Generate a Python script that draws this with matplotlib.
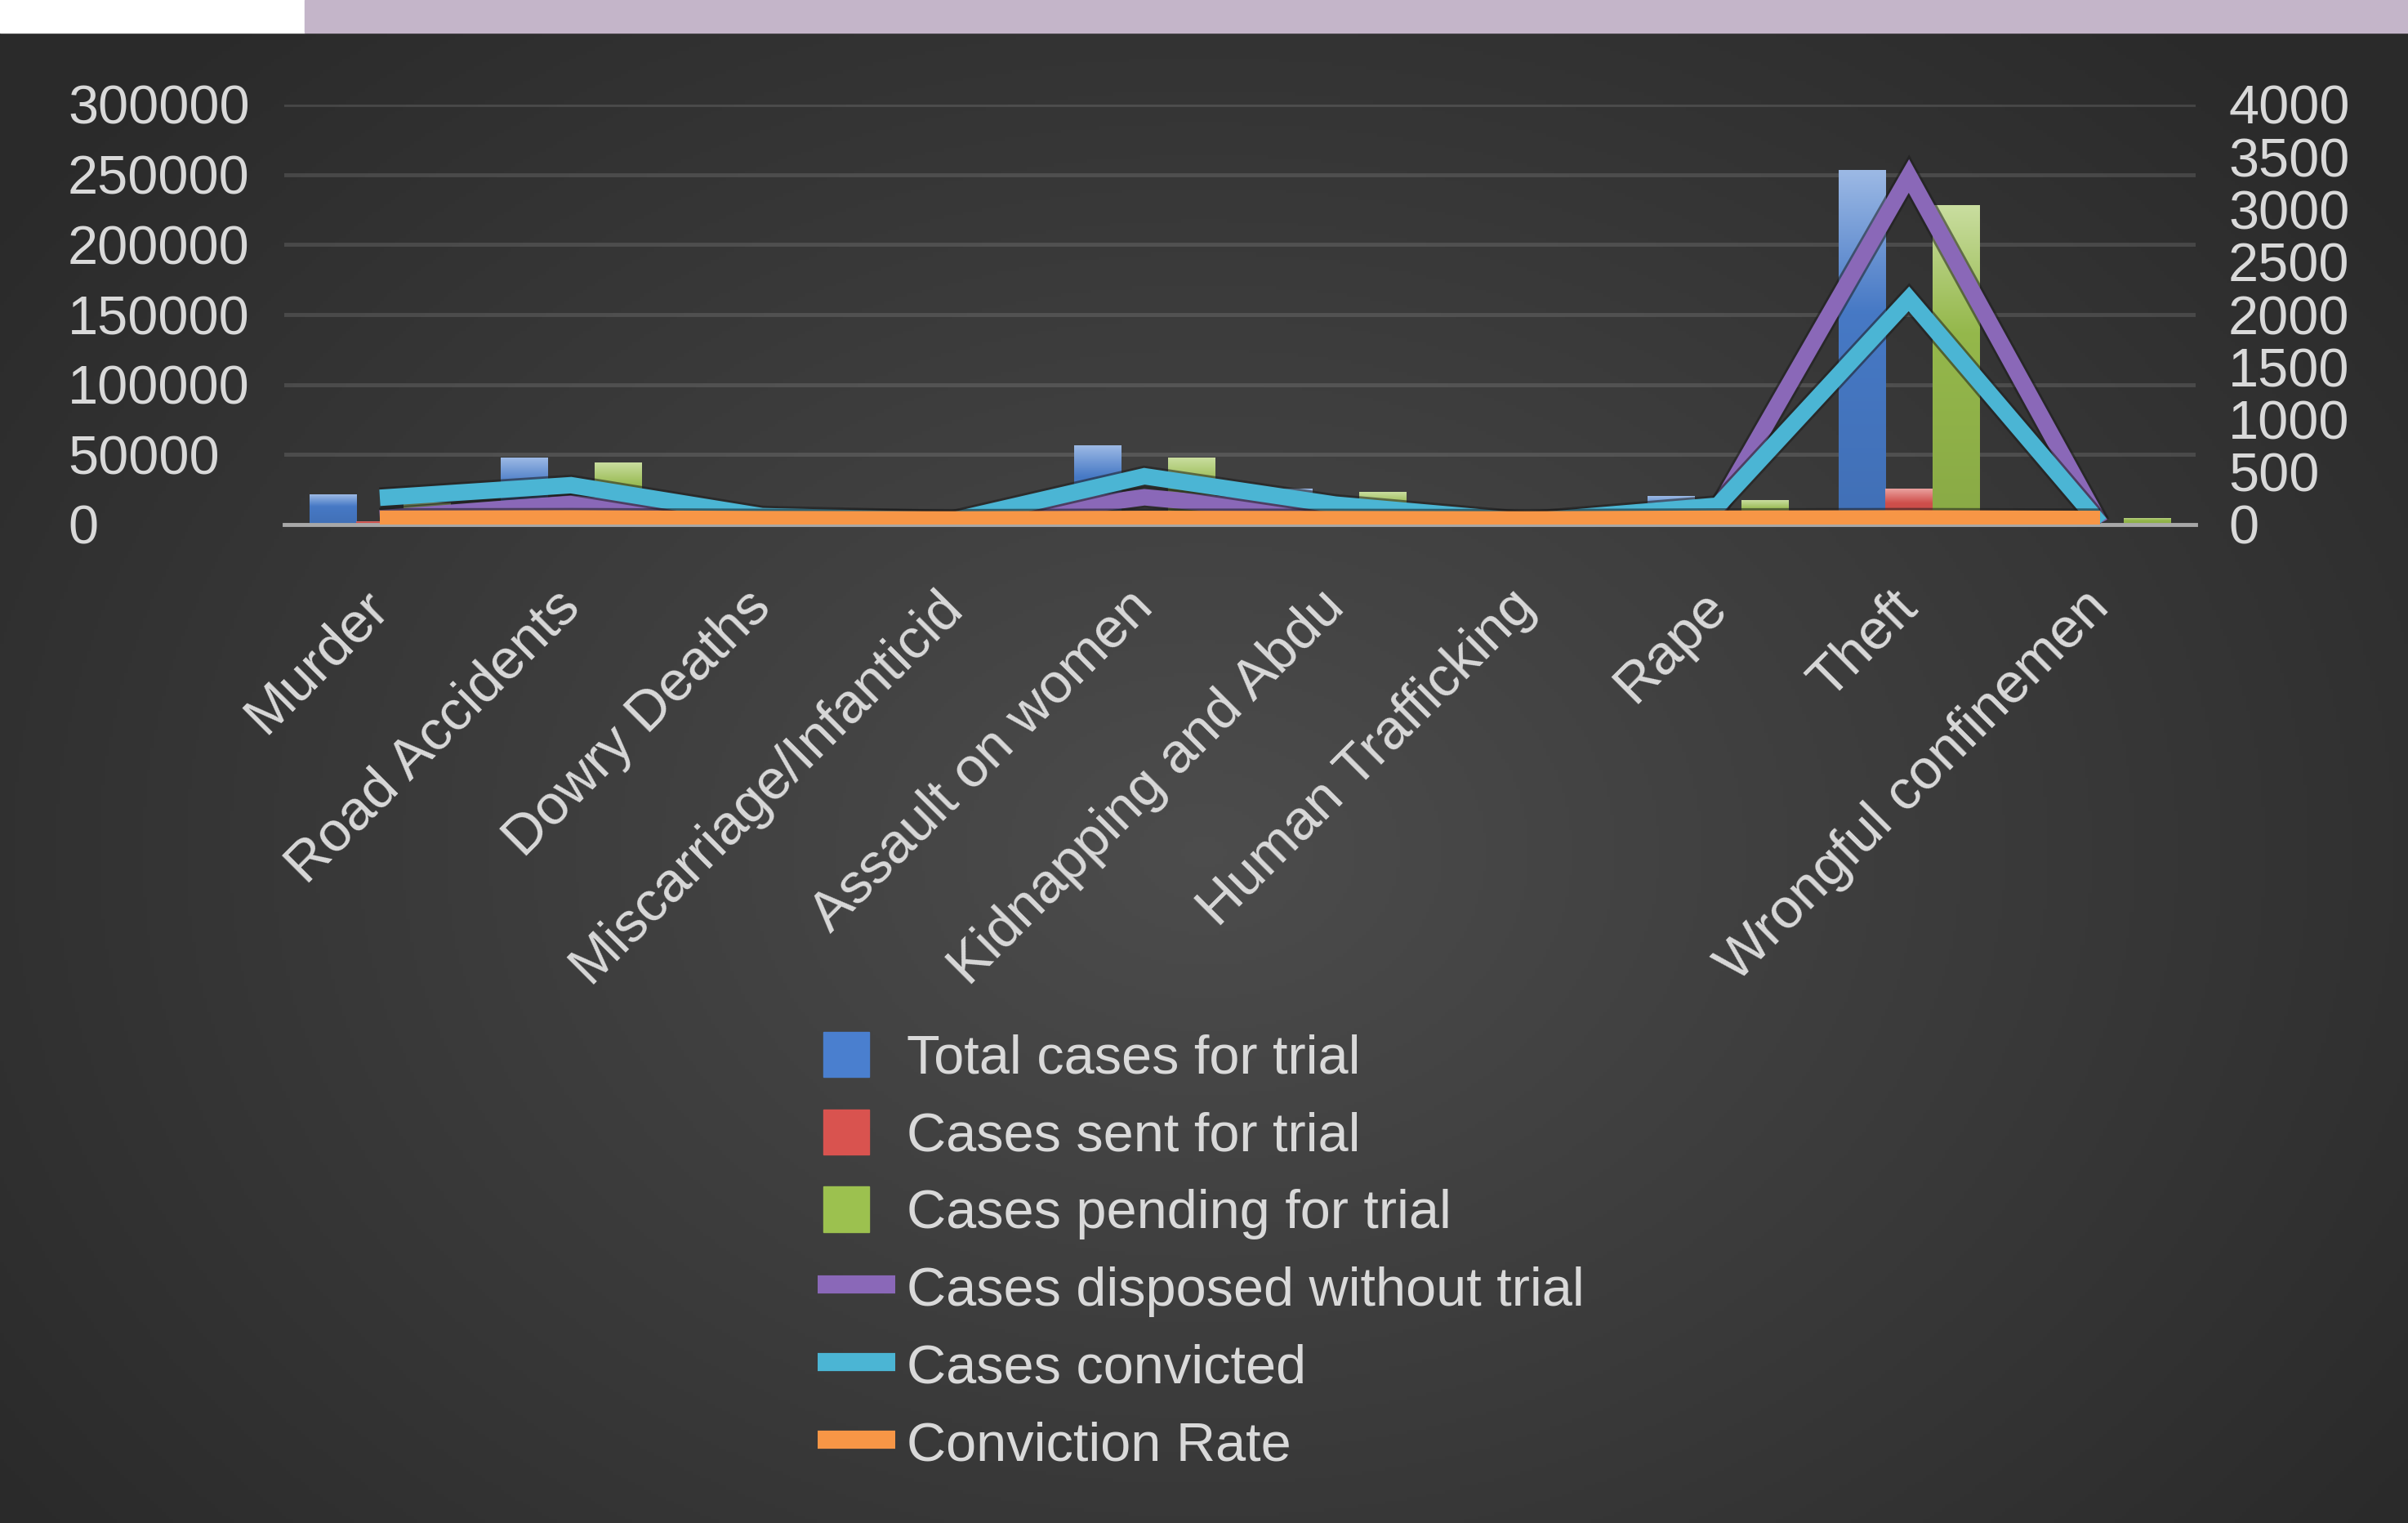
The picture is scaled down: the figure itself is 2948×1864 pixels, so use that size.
import numpy as np
import matplotlib
matplotlib.use("Agg")
import matplotlib.pyplot as plt
import matplotlib.patheffects as pe
from matplotlib.colors import to_rgb
from matplotlib.patches import Rectangle, Patch
from matplotlib.lines import Line2D
from matplotlib.legend_handler import HandlerPatch
from matplotlib.transforms import ScaledTranslation

plt.rcParams['font.family'] = ['Liberation Sans', 'DejaVu Sans']

# --- Data ---
categories = ["Murder", "Road Accidents", "Dowry Deaths", "Miscarriage/Infanticid",
              "Assault on women", "Kidnapping and Abdu", "Human Trafficking",
              "Rape", "Theft", "Wrongful confinemen"]
total_cases = [21500, 47800, 6500, 2200, 56500, 25500, 3500, 20400, 253500, 5600]
sent_cases = [2500, 3500, 800, 300, 8000, 2200, 500, 2900, 25500, 800]
pending_cases = [16000, 44300, 5700, 1900, 47800, 23300, 3000, 17500, 228000, 4800]
disposed = [60, 200, 30, 15, 260, 90, 20, 150, 3320, 10]
convicted = [255, 375, 80, 40, 460, 190, 30, 180, 2150, 10]
conv_rate = [42, 45, 38, 35, 40, 38, 35, 42, 45, 40]

left_ticks = np.arange(0, 300001, 50000)
right_ticks = np.arange(0, 4001, 500)

C_BLUE, C_RED, C_GREEN = "#4a7fcf", "#d9534f", "#9cc14f"
C_PURPLE, C_CYAN, C_ORANGE = "#8a68b8", "#4bb5d4", "#f79646"
TXT = "#d9d9d9"

W, H = 2948, 1864
fig = plt.figure(figsize=(W / 100, H / 100), dpi=100)

# --- background: radial grey gradient + top strip ---
bg = fig.add_axes([0, 0, 1, 1 - 40 / H], zorder=-10)
yy, xx = np.mgrid[0:1:400j, 0:1:640j]
r = np.clip(np.sqrt(((xx - 0.5) / 0.62) ** 2 + ((yy - 0.55) / 0.75) ** 2), 0, 1)
g = 0.30 - 0.135 * r
bg.imshow(np.dstack([g, g, g]), aspect="auto", extent=[0, 1, 0, 1])
bg.axis("off")
fig.patches.append(Rectangle((0, 1 - 40 / H), 373 / W, 40 / H,
                             transform=fig.transFigure, color="white"))
fig.patches.append(Rectangle((373 / W, 1 - 40 / H), 1 - 373 / W, 40 / H,
                             transform=fig.transFigure, color="#c4b5c9"))

# --- bars on primary axis ---
ax = fig.add_axes([348 / W, 1 - 642 / H, 2340 / W, 514 / H])
ax.set_facecolor("none")
x = np.arange(len(categories))
w = 0.245
groups = [(ax.bar(x - w, total_cases, w, color=C_BLUE), C_BLUE),
          (ax.bar(x, sent_cases, w, color=C_RED), C_RED),
          (ax.bar(x + w, pending_cases, w, color=C_GREEN), C_GREEN)]

# soft vertical gradient on each bar (lighter at the top, like the Office style)
ramp = np.linspace(0, 1, 64)[:, None]
for bars, col in groups:
    base = np.array(to_rgb(col))
    light = base + (1 - base) * 0.45
    rgb = light[None, None, :] * (1 - np.clip(ramp * 2.5, 0, 1))[..., None] + \
        base[None, None, :] * np.clip(ramp * 2.5, 0, 1)[..., None]
    rgb = rgb * (1 - 0.12 * ramp[..., None])
    for p in bars:
        im = ax.imshow(rgb, extent=[p.get_x(), p.get_x() + p.get_width(), 0, p.get_height()],
                       aspect="auto", origin="upper", zorder=p.get_zorder(),
                       interpolation="bilinear")
        im.set_clip_path(p)

ax.set_xlim(-0.5, len(categories) - 0.5)
ax.set_ylim(0, 300000)
ax.set_yticks(left_ticks)
ax.grid(axis="y", color="white", alpha=0.12, lw=3.5)
ax.set_axisbelow(True)
for s in ["top", "left", "right"]:
    ax.spines[s].set_visible(False)
ax.spines["bottom"].set_color("#a8a8a8")
ax.spines["bottom"].set_linewidth(3.5)
ax.tick_params(axis="y", length=0, pad=190.8, labelsize=48, labelcolor=TXT)
ax.set_xticks(x)
ax.set_xticklabels(categories, rotation=45, ha="right", va="top",
                   rotation_mode="anchor", fontsize=49.5, color=TXT)
ax.tick_params(axis="x", length=0, pad=49)
shift = ScaledTranslation(-0.22, 0, fig.dpi_scale_trans)
for lbl in ax.get_xticklabels():
    lbl.set_transform(lbl.get_transform() + shift)
plt.setp(ax.get_yticklabels(), ha="left")

# --- lines on secondary axis ---
ax2 = ax.twinx()
ax2.set_ylim(0, 4000)
ax2.set_yticks(right_ticks)
for s in ax2.spines.values():
    s.set_visible(False)
ax2.tick_params(axis="y", length=0, pad=28.8, labelsize=48, labelcolor=TXT)
plt.setp(ax2.get_yticklabels(), ha="left")

def shadow(lw):
    return [pe.Stroke(linewidth=lw + 4, foreground="#1c1c1c", alpha=0.55), pe.Normal()]

ax2.plot(x, disposed, color=C_PURPLE, lw=14.5, solid_joinstyle="miter",
         solid_capstyle="butt", path_effects=shadow(14.5))
ax2.plot(x, convicted, color=C_CYAN, lw=14.5, solid_joinstyle="miter",
         solid_capstyle="butt", path_effects=shadow(14.5))
ax2.plot(x, conv_rate, color=C_ORANGE, lw=17, solid_joinstyle="miter",
         solid_capstyle="butt", path_effects=shadow(17))

# --- legend ---
def bar_handle(legend, orig_handle, xdescent, ydescent, width, height, fontsize):
    return Rectangle((-xdescent + 0.07 * width, -ydescent), 0.6 * width, height)

handles = [Patch(color=C_BLUE), Patch(color=C_RED), Patch(color=C_GREEN),
           Line2D([], [], color=C_PURPLE, lw=16, solid_capstyle="butt"),
           Line2D([], [], color=C_CYAN, lw=16, solid_capstyle="butt"),
           Line2D([], [], color=C_ORANGE, lw=16, solid_capstyle="butt")]
labels = ["Total cases for trial", "Cases sent for trial", "Cases pending for trial",
          "Cases disposed without trial", "Cases convicted", "Conviction Rate"]
fig.legend(handles, labels, loc="upper left", bbox_to_anchor=(941 / W, 1 - 1203 / H),
           frameon=False, fontsize=48, labelcolor=TXT, handlelength=1.42,
           handleheight=0.9, handletextpad=0.22, labelspacing=0.45,
           handler_map={Patch: HandlerPatch(patch_func=bar_handle)})

fig.savefig("out.png", dpi=100)
